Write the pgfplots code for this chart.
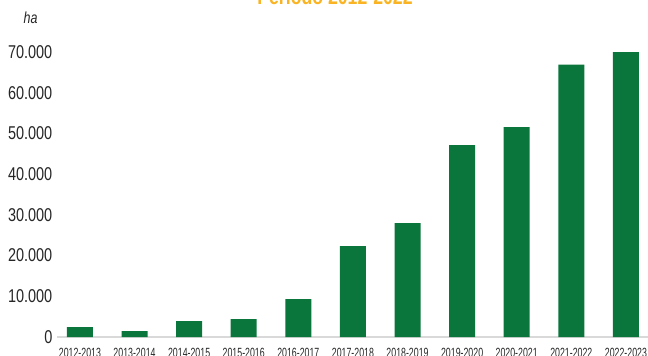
\documentclass[border=0pt]{standalone}
\usepackage{pgfplots}
\pgfplotsset{compat=1.18}
\usepackage{fontspec}
\setmainfont{Liberation Sans}[FakeStretch=0.78]
\newfontfamily\xlabfont{Liberation Sans}[FakeStretch=0.66]
\definecolor{bargreen}{RGB}{11,118,60}
\definecolor{titleorange}{RGB}{250,180,35}
\definecolor{basegray}{RGB}{217,217,217}
\begin{document}
\begin{tikzpicture}[x=0.75pt,y=0.75pt]
\begin{axis}[
  at={(42.75pt,13.5pt)}, anchor=south west,
  scale only axis, width=447.15pt, height=213.75pt,
  xmin=-0.42, xmax=10.5, ymin=0, ymax=70000,
  axis x line=bottom, axis y line=left,
  x axis line style={draw=basegray, line width=1.5pt, -},
  y axis line style={draw=none},
  major tick length=0pt,
  xtick={0,...,10},
  xticklabels={2012-2013,2013-2014,2014-2015,2015-2016,2016-2017,2017-2018,2018-2019,2019-2020,2020-2021,2021-2022,2022-2023},
  ytick={0,10000,20000,30000,40000,50000,60000,70000},
  yticklabels={0,10.000,20.000,30.000,40.000,50.000,60.000,70.000},
  scaled y ticks=false,
  xticklabel style={font=\xlabfont\fontsize{10}{12}\selectfont, yshift=-4.5pt, text=black!85},
  yticklabel style={font=\fontsize{13.9}{16}\selectfont, text=black!85},
  ybar, bar width=19.5pt, bar shift=0pt,
  clip=false,
]
\addplot[fill=bargreen, draw=none] coordinates {
  (0,2456) (1,1474) (2,3930) (3,4421) (4,9334) (5,22352)
  (6,28000) (7,47160) (8,51580) (9,66880) (10,70000)
};
\end{axis}
\node[anchor=base, font=\bfseries\fontsize{17}{20}\selectfont, text=titleorange] at (335,351) {Período 2012-2022};
\node[anchor=base west, font=\itshape\fontsize{12}{14}\selectfont, text=black!85] at (19,332) {ha};
\pgfresetboundingbox
\useasboundingbox (0,0) rectangle (648,355);
\end{tikzpicture}
\end{document}
